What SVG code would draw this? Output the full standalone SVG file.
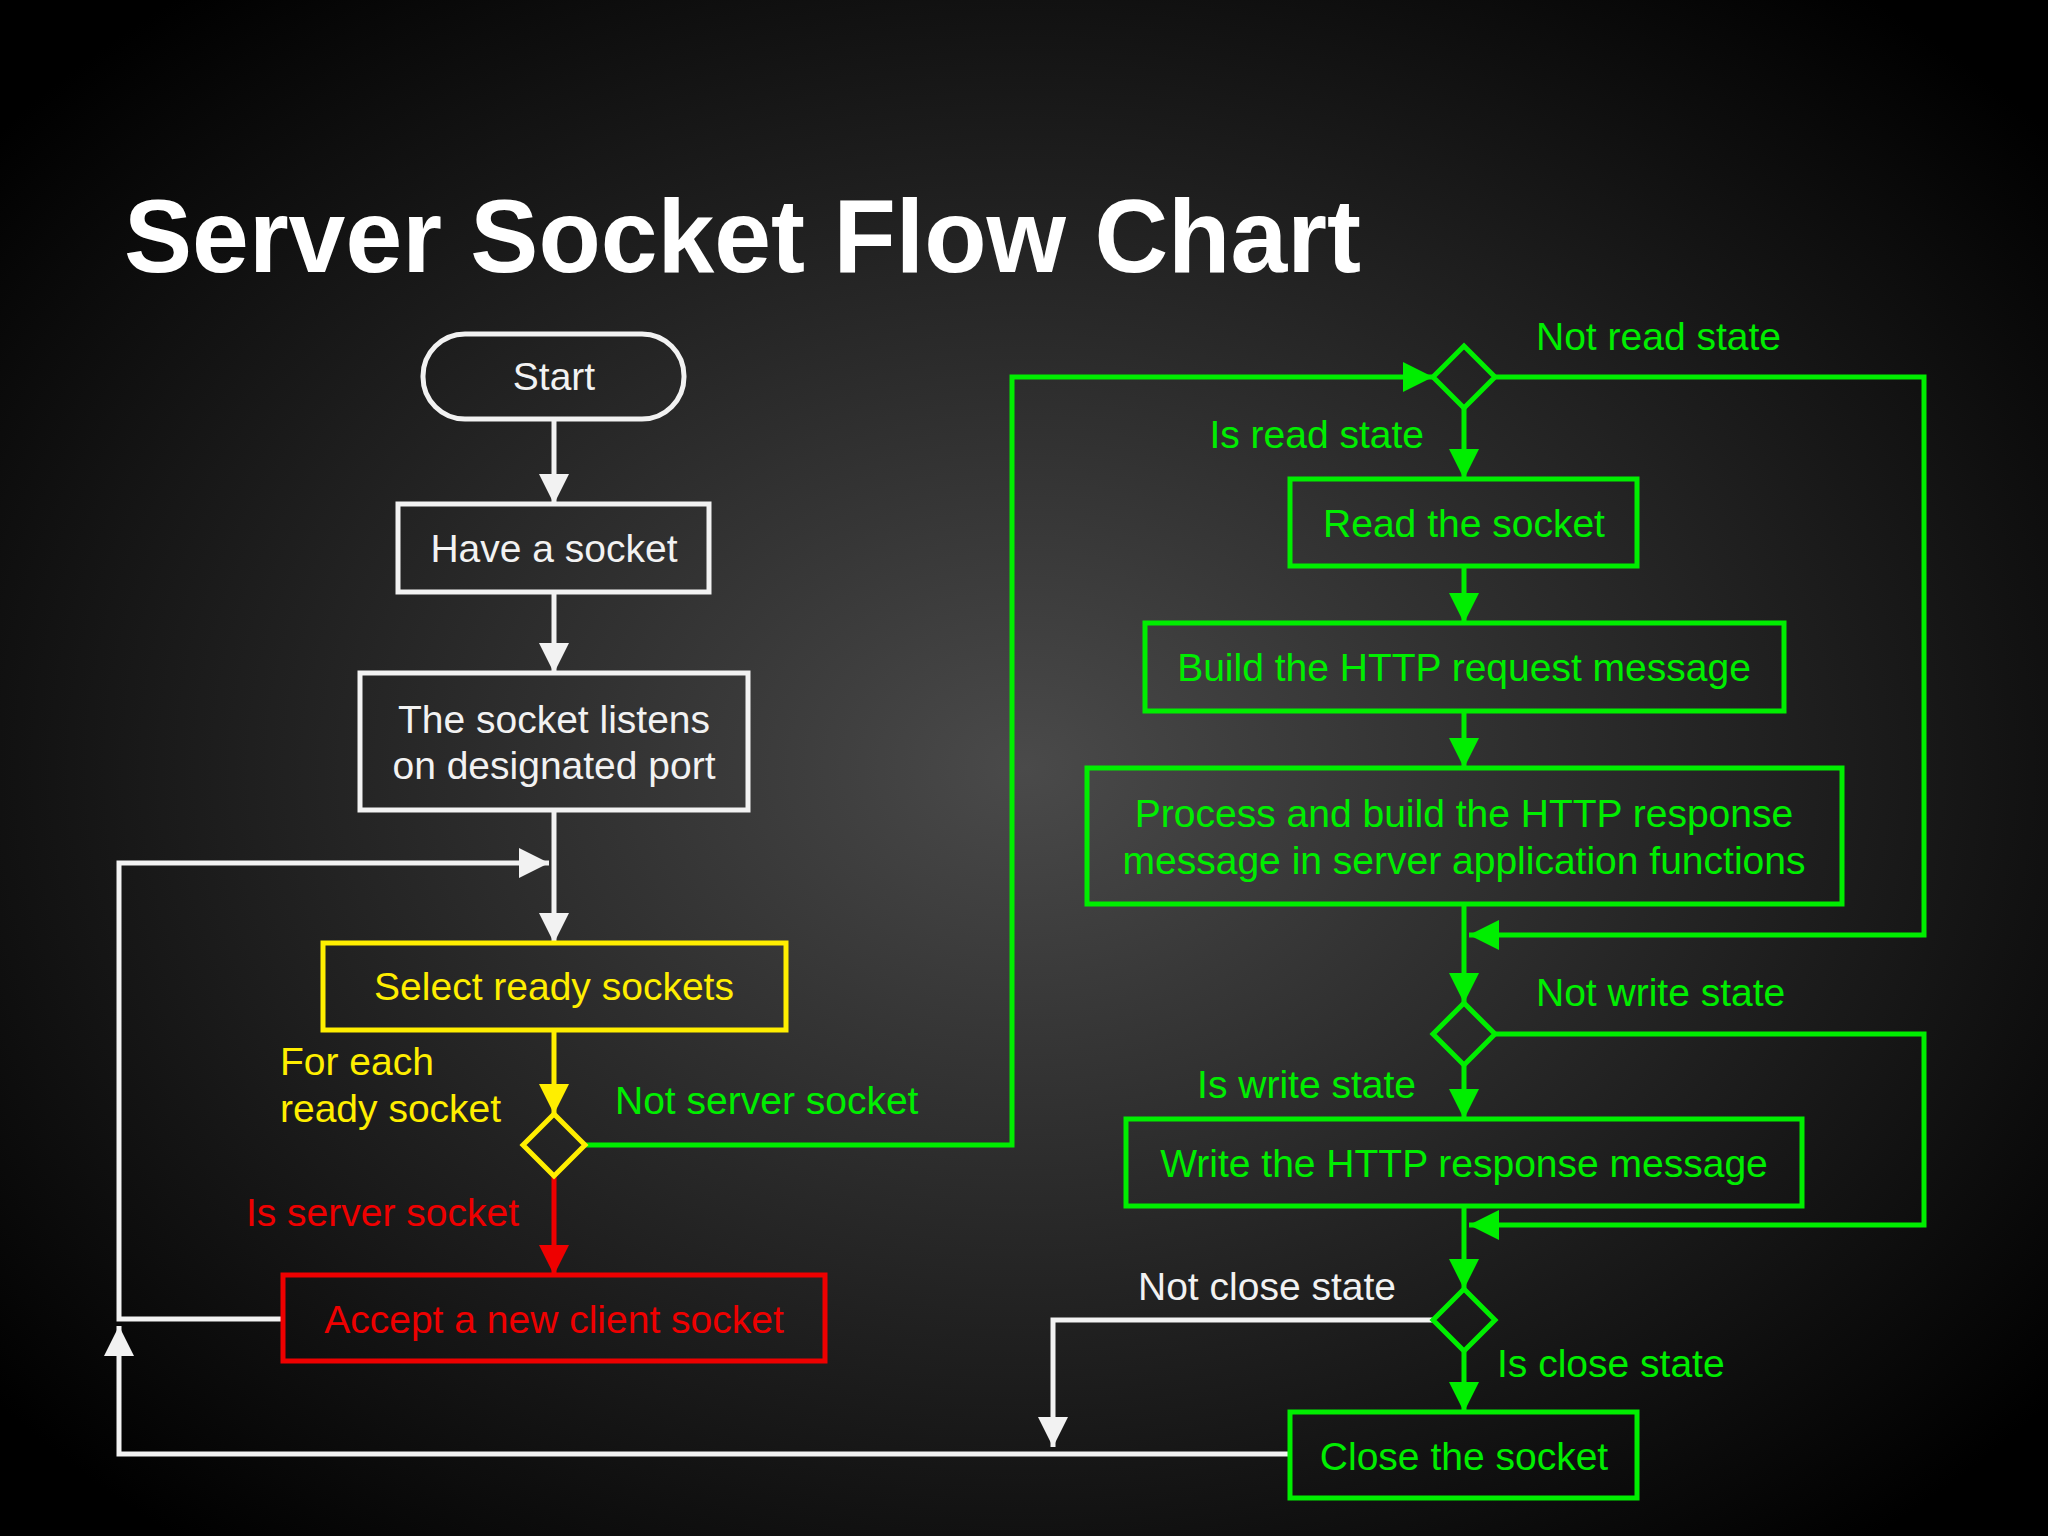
<svg xmlns="http://www.w3.org/2000/svg" width="2048" height="1536" viewBox="0 0 2048 1536">
<defs>
<radialGradient id="bg" cx="50%" cy="50%" r="65%">
<stop offset="0" stop-color="#4a4a4a"/><stop offset="1" stop-color="#000"/>
</radialGradient>
<marker id="aw" markerUnits="userSpaceOnUse" markerWidth="32" markerHeight="30" refX="30" refY="15" orient="auto"><path d="M0,0 L30,15 L0,30 Z" fill="#f2f2f2"/></marker>
<marker id="ag" markerUnits="userSpaceOnUse" markerWidth="32" markerHeight="30" refX="30" refY="15" orient="auto"><path d="M0,0 L30,15 L0,30 Z" fill="#00ee00"/></marker>
<marker id="ay" markerUnits="userSpaceOnUse" markerWidth="32" markerHeight="30" refX="30" refY="15" orient="auto"><path d="M0,0 L30,15 L0,30 Z" fill="#ffee00"/></marker>
<marker id="ar" markerUnits="userSpaceOnUse" markerWidth="32" markerHeight="30" refX="30" refY="15" orient="auto"><path d="M0,0 L30,15 L0,30 Z" fill="#ee0000"/></marker>
</defs>
<style>
text{font-family:"Liberation Sans",Arial,sans-serif;font-size:39px}
.n{text-anchor:middle}
.w{fill:none;stroke:#f2f2f2;stroke-width:5}
.g{fill:none;stroke:#00ee00;stroke-width:5}
.y{fill:none;stroke:#ffee00;stroke-width:5}
.r{fill:none;stroke:#ee0000;stroke-width:5}
.tw{fill:#f2f2f2}.tg{fill:#00ee00}.ty{fill:#ffee00}.tr{fill:#ee0000}
</style>
<rect width="2048" height="1536" fill="url(#bg)"/>
<text x="124" y="272" style="font-size:104px;font-weight:bold" fill="#fff" textLength="1237" lengthAdjust="spacingAndGlyphs">Server Socket Flow Chart</text>

<g id="connectors">
<path class="w" d="M554,419V504" marker-end="url(#aw)"/>
<path class="w" d="M554,592V673" marker-end="url(#aw)"/>
<path class="w" d="M554,810V943" marker-end="url(#aw)"/>
<path class="y" d="M554,1030V1114" marker-end="url(#ay)"/>
<path class="r" d="M554,1176V1275" marker-end="url(#ar)"/>
<path class="w" d="M283,1319H119V863H549" marker-end="url(#aw)"/>
<path class="w" d="M1290,1454H119V1326" marker-end="url(#aw)"/>
<path class="w" d="M1433,1320H1053V1447" marker-end="url(#aw)"/>
<path class="g" d="M585,1145H1012V377H1433" marker-end="url(#ag)"/>
<path class="g" d="M1495,377H1924V935H1469" marker-end="url(#ag)"/>
<path class="g" d="M1464,408V479" marker-end="url(#ag)"/>
<path class="g" d="M1464,566V623" marker-end="url(#ag)"/>
<path class="g" d="M1464,711V768" marker-end="url(#ag)"/>
<path class="g" d="M1464,904V1003" marker-end="url(#ag)"/>
<path class="g" d="M1495,1034H1924V1225H1469" marker-end="url(#ag)"/>
<path class="g" d="M1464,1065V1119" marker-end="url(#ag)"/>
<path class="g" d="M1464,1206V1289" marker-end="url(#ag)"/>
<path class="g" d="M1464,1351V1412" marker-end="url(#ag)"/>
<text x="1536" y="350" class="tg">Not read state</text>
<text x="1424" y="448" class="tg" text-anchor="end">Is read state</text>
<text x="1536" y="1006" class="tg">Not write state</text>
<text x="1416" y="1098" class="tg" text-anchor="end">Is write state</text>
<text x="1138" y="1300" class="tw">Not close state</text>
<text x="1497" y="1377" class="tg">Is close state</text>
<text x="615" y="1114" class="tg">Not server socket</text>
<text x="280" y="1075" class="ty">For each</text>
<text x="280" y="1122" class="ty">ready socket</text>
<text x="519" y="1226" class="tr" text-anchor="end">Is server socket</text>
</g>

<g id="start"><rect class="w" x="423" y="334" width="261" height="85" rx="42"/><text class="n tw" x="554" y="390">Start</text></g>
<g id="have"><rect class="w" x="398" y="504" width="311" height="88"/><text class="n tw" x="554" y="562">Have a socket</text></g>
<g id="listen"><rect class="w" x="360" y="673" width="388" height="137"/><text class="n tw" x="554" y="733">The socket listens</text><text class="n tw" x="554" y="779">on designated port</text></g>
<g id="select"><rect class="y" x="323" y="943" width="463" height="87"/><text class="n ty" x="554" y="1000">Select ready sockets</text></g>
<g id="d1"><path class="y" d="M554,1114L585,1145L554,1176L523,1145Z"/></g>
<g id="accept"><rect class="r" x="283" y="1275" width="542" height="86"/><text class="n tr" x="554" y="1333">Accept a new client socket</text></g>
<g id="d2"><path class="g" d="M1464,346L1495,377L1464,408L1433,377Z"/></g>
<g id="read"><rect class="g" x="1290" y="479" width="347" height="87"/><text class="n tg" x="1464" y="537">Read the socket</text></g>
<g id="build"><rect class="g" x="1145" y="623" width="639" height="88"/><text class="n tg" x="1464" y="681">Build the HTTP request message</text></g>
<g id="process"><rect class="g" x="1087" y="768" width="755" height="136"/><text class="n tg" x="1464" y="827">Process and build the HTTP response</text><text class="n tg" x="1464" y="874">message in server application functions</text></g>
<g id="d3"><path class="g" d="M1464,1003L1495,1034L1464,1065L1433,1034Z"/></g>
<g id="write"><rect class="g" x="1126" y="1119" width="676" height="87"/><text class="n tg" x="1464" y="1177">Write the HTTP response message</text></g>
<g id="d4"><path class="g" d="M1464,1289L1495,1320L1464,1351L1433,1320Z"/></g>
<g id="close"><rect class="g" x="1290" y="1412" width="347" height="86"/><text class="n tg" x="1464" y="1470">Close the socket</text></g>
</svg>
